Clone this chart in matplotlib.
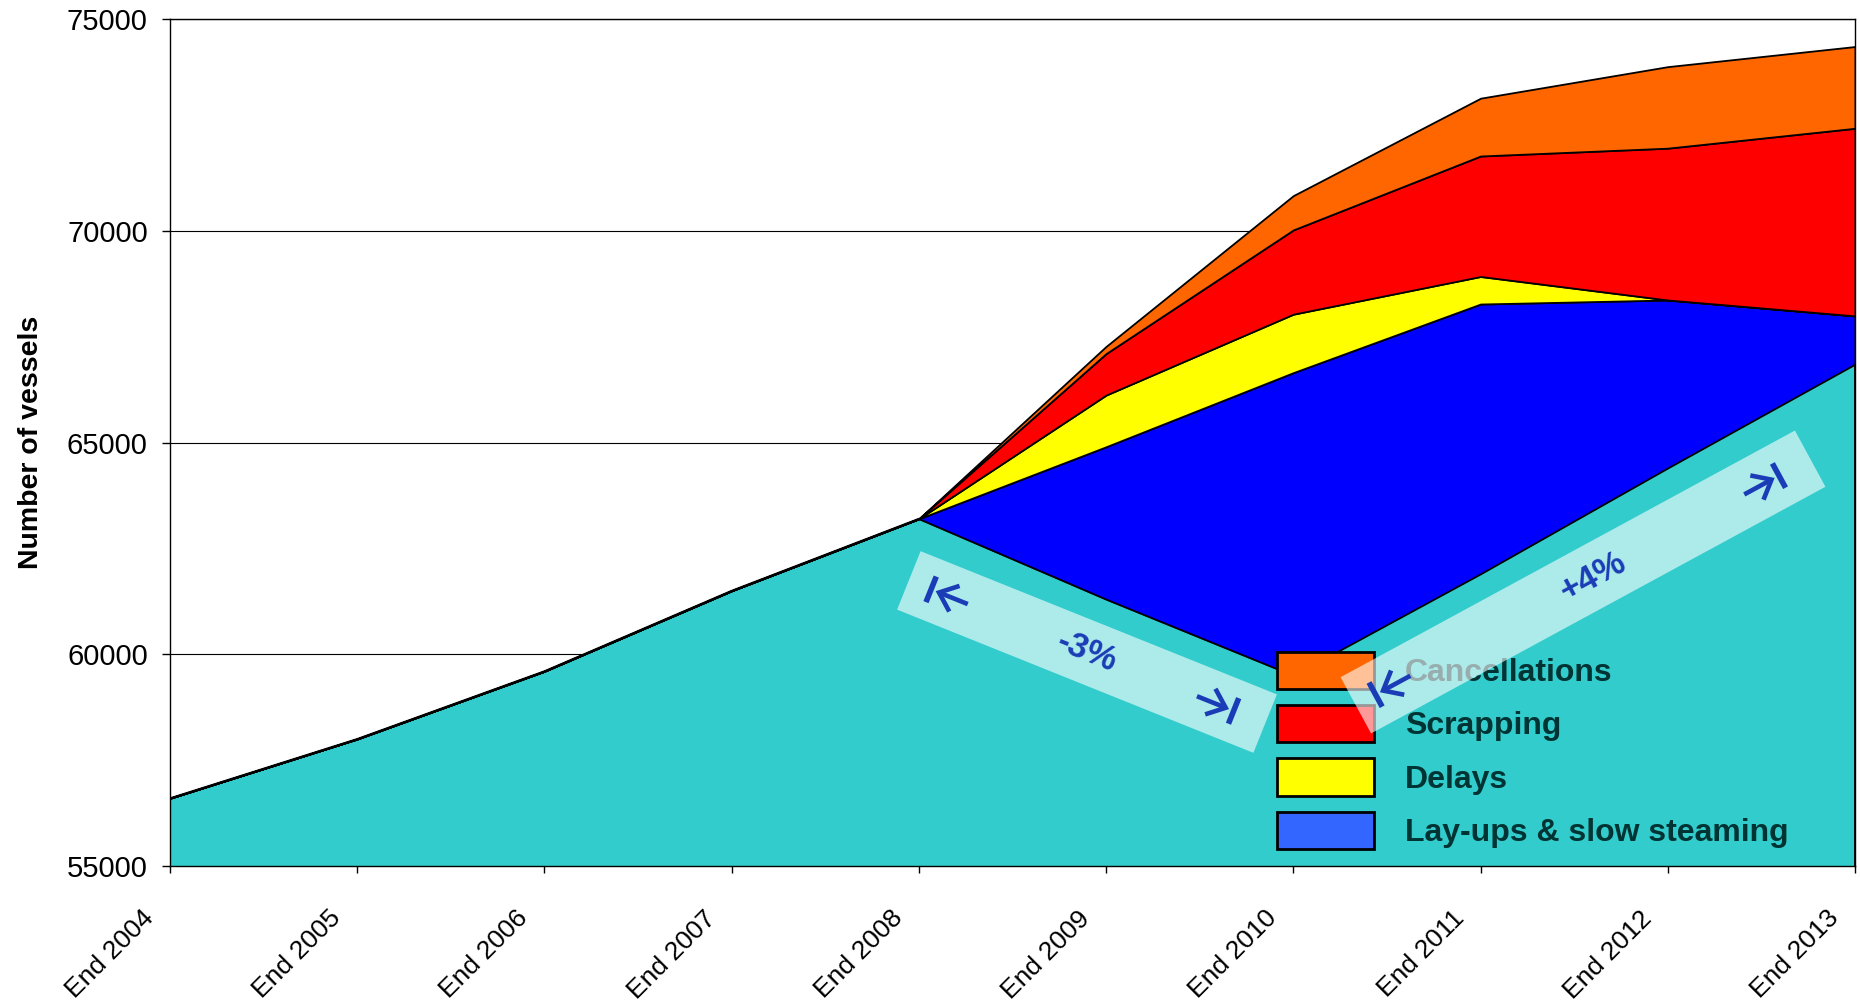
import numpy as np
import matplotlib
matplotlib.use("Agg")
import matplotlib.pyplot as plt
from matplotlib.patches import Patch, Rectangle
from matplotlib.lines import Line2D
from matplotlib.transforms import Affine2D, ScaledTranslation

plt.rcParams['font.family'] = ['Liberation Sans', 'DejaVu Sans']

years = ["End 2004", "End 2005", "End 2006", "End 2007", "End 2008",
         "End 2009", "End 2010", "End 2011", "End 2012", "End 2013"]
# fleet in service (base) and the extra capacity kept out by each effect
fleet = [56600, 58000, 59600, 61500, 63200, 61300, 59500, 61900, 64400, 66850]
layups = [0, 0, 0, 0, 0, 3600, 7150, 6370, 3965, 1140]
delays = [0, 0, 0, 0, 0, 1220, 1380, 650, 0, 0]
scrapping = [0, 0, 0, 0, 0, 980, 1990, 2845, 3585, 4430]
cancellations = [0, 0, 0, 0, 0, 170, 810, 1365, 1925, 1930]

legend_labels = ["Cancellations", "Scrapping", "Delays", "Lay-ups & slow steaming"]
legend_colors = ["#FF6600", "#FF0000", "#FFFF00", "#3366FF"]

W, H = 1860, 1001
fig = plt.figure(figsize=(W / 100, H / 100), dpi=100)
ax = fig.add_axes([170 / W, 1 - 866 / H, (1855 - 170) / W, (866 - 19) / H])

x = np.arange(len(years))
ax.stackplot(x, fleet, layups, delays, scrapping, cancellations,
             colors=["#33CCCC", "#0000FF", "#FFFF00", "#FF0000", "#FF6600"],
             edgecolor="black", linewidth=1.3)

ax.set_xlim(0, len(years) - 1)
ax.set_ylim(55000, 75000)
ax.set_yticks([55000, 60000, 65000, 70000, 75000])
ax.set_xticks(x)
ax.set_xticklabels(years, rotation=45, ha="right", va="center",
                   rotation_mode="anchor")
ax.tick_params(axis="y", direction="out", length=6, width=1, pad=10,
               labelsize=21)
ax.tick_params(axis="x", direction="out", length=5, width=1, pad=30,
               labelsize=19)
shift = ScaledTranslation(-20 / 100, 0, fig.dpi_scale_trans)
for lab in ax.get_xticklabels():
    lab.set_transform(lab.get_transform() + shift)
ax.yaxis.grid(True, color="black", linewidth=0.8)
ax.set_axisbelow(True)
for s in ax.spines.values():
    s.set_linewidth(1)
ax.set_ylabel("Number of vessels", fontsize=20.5, fontweight="bold")
ax.yaxis.set_label_coords(-0.075, 0.5)

handles = [Patch(facecolor=c, edgecolor="black", linewidth=2) for c in legend_colors]
leg = ax.legend(handles, legend_labels, loc="lower left",
                bbox_to_anchor=(0.657, 0.02), frameon=False,
                prop={"size": 23, "weight": "bold"},
                handlelength=3.04, handleheight=1.42, handletextpad=0.97,
                labelspacing=0.5, borderpad=0, borderaxespad=0)
for t in leg.get_texts():
    t.set_color("#003333")

ARROW_BLUE = "#1A3CB6"


def end_marker(tr, ub, side):
    # bar plus open arrow pointing at it; side=-1 left end, +1 right end
    tip = ub - side * 8.5
    back = -side
    fig.add_artist(Line2D([ub, ub], [-13.8, 13.8], transform=tr,
                          color=ARROW_BLUE, lw=4.0, solid_capstyle="butt", zorder=6))
    fig.add_artist(Line2D([tip, tip + back * 31], [0, 0], transform=tr,
                          color=ARROW_BLUE, lw=3.3, solid_capstyle="butt", zorder=6))
    fig.add_artist(Line2D([tip + back * 16.6, tip, tip + back * 16.6],
                          [13.8, 0, -13.8], transform=tr, color=ARROW_BLUE,
                          lw=3.3, solid_capstyle="butt", solid_joinstyle="miter",
                          zorder=6))


# translucent growth bands, placed in output pixels (y measured from top)
def band(cx, cy, length, width, angle, bar_left, bar_right, label, u_text):
    tr = Affine2D().rotate_deg(angle).translate(cx, H - cy)
    r = Rectangle((-length / 2, -width / 2), length, width, transform=tr,
                  facecolor="white", alpha=0.6, edgecolor="none", zorder=5)
    fig.add_artist(r)
    end_marker(tr, bar_left, -1)
    end_marker(tr, bar_right, 1)
    tx, ty = tr.transform((u_text, 0))
    fig.text(tx / W, ty / H, label, rotation=angle, rotation_mode="anchor",
             ha="center", va="center", fontsize=25, fontweight="bold",
             color=ARROW_BLUE, zorder=6)


band(1087, 652, 384, 63, -21.9, -168, 158, "-3%", 0)
band(1583, 582, 517, 64, 28.5, -236, 223, "+4%", 11)

fig.savefig("out.png", dpi=100)
